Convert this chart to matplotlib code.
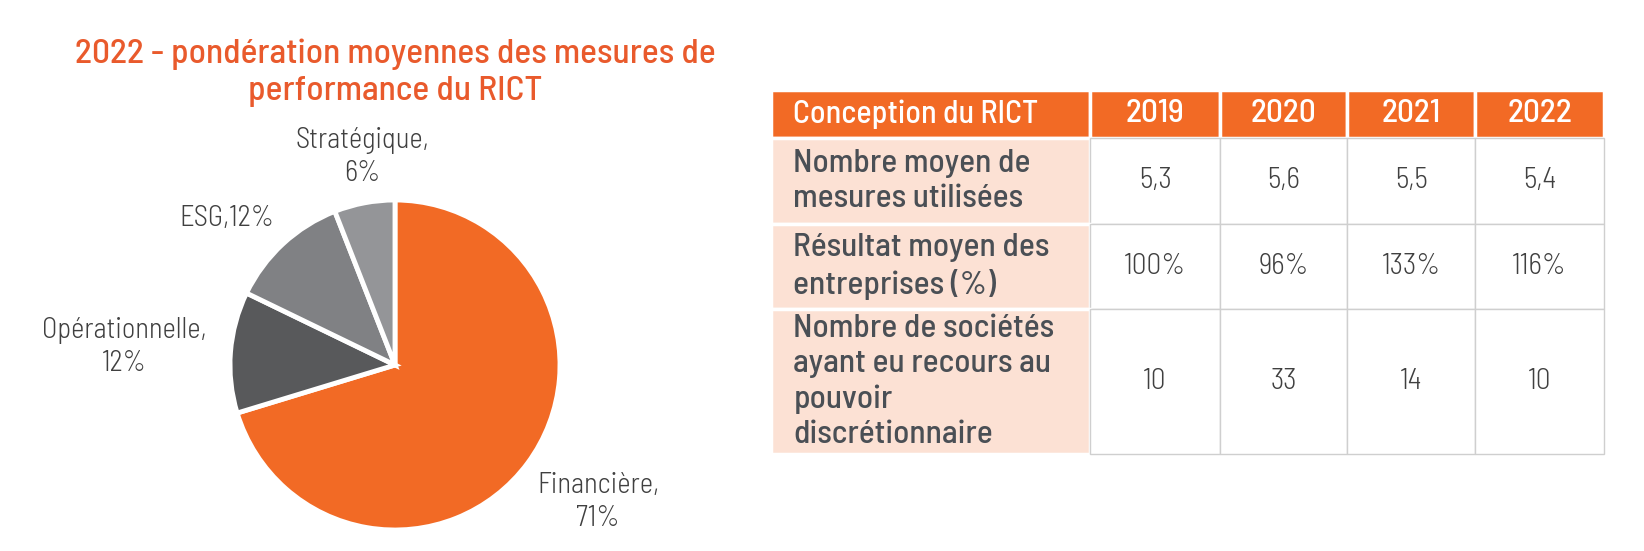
import matplotlib
matplotlib.use("Agg")
import matplotlib.pyplot as plt

plt.rcParams['font.family'] = ['Barlow Semi Condensed', 'Roboto Condensed', 'DejaVu Sans']

# pie data
title = "2022 - pondération moyennes des mesures de\nperformance du RICT"
categories = ["Financière", "Opérationnelle", "ESG", "Stratégique"]
weights = [71, 12, 12, 6]
pie_labels = ["Financière,\n71%", "Opérationnelle,\n12%", "ESG,12%", "Stratégique,\n6%"]

# table data
col_labels = ["Conception du RICT", "2019", "2020", "2021", "2022"]
row_labels = ["Nombre moyen de\nmesures utilisées",
              "Résultat moyen des\nentreprises (%)",
              "Nombre de sociétés\nayant eu recours au\npouvoir\ndiscrétionnaire"]
avg_measures = ["5,3", "5,6", "5,5", "5,4"]
avg_result = ["100%", "96%", "133%", "116%"]
discretion = ["10", "33", "14", "10"]

ORANGE = "#F26A25"
TITLE_C = "#E95A2C"
PEACH = "#FCE1D4"
GRAYS = [ORANGE, "#58595B", "#808184", "#949598"]
TXT = "#404040"
ROW_TXT = "#4A4F55"

W, H = 1644, 551
fig = plt.figure(figsize=(W / 100, H / 100), dpi=100)

# pie
cx, cy, r = 395, 365, 165
ax = fig.add_axes([(cx - r) / W, (H - cy - r) / H, 2 * r / W, 2 * r / H])
ax.pie(weights, colors=GRAYS, startangle=90, counterclock=False,
       wedgeprops=dict(edgecolor="white", linewidth=3.5))
ax.set_xlim(-1, 1)
ax.set_ylim(-1, 1)
label_pos = [(1.23, -0.83), (-1.64, 0.11), (-1.02, 0.89), (-0.2, 1.26)]
for lab, (x, y) in zip(pie_labels, label_pos):
    ax.text(x, y, lab, ha="center", va="center", fontsize=20.5, color=TXT,
            fontweight=300, linespacing=1.3, clip_on=False)

fig.text(395 / W, 1 - 73 / H, title, ha="center", va="center", fontsize=25.5,
         color=TITLE_C, fontweight=500, linespacing=1.24)

# table
tl, tr, tt, tb = 771, 1604, 90, 454
tax = fig.add_axes([tl / W, (H - tb) / H, (tr - tl) / W, (tb - tt) / H])
tax.axis("off")
cell_text = [[row_labels[0]] + avg_measures,
             [row_labels[1]] + avg_result,
             [row_labels[2]] + discretion]
col_w = [319, 130, 127, 128, 129]
tbl = tax.table(cellText=cell_text, colLabels=col_labels, colWidths=col_w,
                cellLoc="center", bbox=[0, 0, 1, 1])
tbl.auto_set_font_size(False)
row_h = [48, 86, 85, 145]
for (ri, ci), cell in tbl.get_celld().items():
    cell.set_height(row_h[ri])
    t = cell.get_text()
    t.set_linespacing(1.27)
    if ri == 0:
        cell.set_facecolor(ORANGE)
        cell.set_edgecolor("white")
        cell.set_linewidth(2.5)
        t.set_color("white")
        t.set_fontsize(23 if ci == 0 else 24)
        t.set_fontweight(500)
    elif ci == 0:
        cell.set_facecolor(PEACH)
        cell.set_edgecolor("white")
        cell.set_linewidth(2.5)
        t.set_color(ROW_TXT)
        t.set_fontsize(24)
        t.set_fontweight(500)
    else:
        cell.set_facecolor("white")
        cell.set_edgecolor("#CFCFCF")
        cell.set_linewidth(1)
        t.set_color(TXT)
        t.set_fontsize(21)
        t.set_fontweight(300)
    if ci == 0:
        cell.PAD = 0.07
        t.set_ha("left")
        cell._loc = "left"

fig.savefig("out.png", dpi=100, facecolor="white")
